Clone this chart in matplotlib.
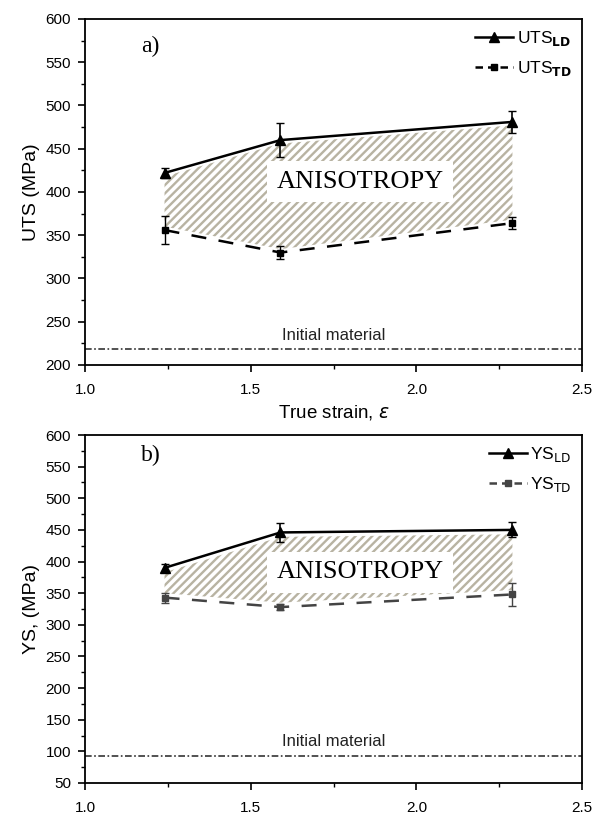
import matplotlib
matplotlib.use("Agg")
import matplotlib.pyplot as plt
from matplotlib.ticker import MultipleLocator
from matplotlib.lines import Line2D

strain = [1.24, 1.59, 2.29]

uts_ld = [422, 460, 481]
uts_ld_err = [6, 20, 13]
uts_td = [356, 330, 364]
uts_td_err = [16, 8, 7]
uts_initial = 218

ys_ld = [390, 446, 450]
ys_ld_err = [6, 15, 12]
ys_td = [343, 328, 348]
ys_td_err = [8, 5, 18]
ys_initial = 93

plt.rcParams['font.family'] = ['Liberation Sans', 'DejaVu Sans']
plt.rcParams['hatch.linewidth'] = 1.7
HATCH = '#b8b3a2'

fig = plt.figure(figsize=(6.02, 8.14), dpi=100)
ax1 = fig.add_axes([0.1412, 0.5516, 0.8256, 0.4251])
ax2 = fig.add_axes([0.1412, 0.0381, 0.8256, 0.4275])

def panel(ax, ld, lderr, td, tderr, init, ylo, yticks, ylabel, tag, labld, labtd,
          tdcolor, gap, txt_y):
    lo = [v + gap for v in td]
    hi = [v - gap for v in ld]
    ax.fill_between(strain, lo, hi, facecolor='none', edgecolor=HATCH,
                    hatch='////', linewidth=0, zorder=1)
    ax.errorbar(strain, ld, yerr=lderr, color='black', lw=1.8, marker='^', ms=7,
                capsize=3, elinewidth=1.2, zorder=3)
    ax.errorbar(strain, td, yerr=tderr, color=tdcolor, lw=1.8, marker='s', ms=5,
                ls=(0, (6, 5)), capsize=3, elinewidth=1.0, zorder=3)
    ax.axhline(init, color='#333333', lw=1.2, ls=(0, (4, 1.5, 1, 1.5)), zorder=2)
    ax.text(1.75, init + (600 - ylo) * 0.02, 'Initial material', ha='center',
            va='bottom', fontsize=12, color='#222222')
    ax.text(1.83, txt_y, 'ANISOTROPY',
            family='Liberation Serif', fontsize=19, ha='center', va='center',
            bbox=dict(facecolor='white', edgecolor='none', pad=7), zorder=2)
    ax.text(1.17, 568, tag, family='Liberation Serif', fontsize=17, ha='left',
            va='center')
    ax.set_xlim(1.0, 2.5)
    ax.set_ylim(ylo, 600)
    ax.set_xticks([1.0, 1.5, 2.0, 2.5])
    ax.set_xticklabels(['1.0', '1.5', '2.0', '2.5'])
    ax.xaxis.set_minor_locator(MultipleLocator(0.25))
    ax.set_yticks(yticks)
    ax.yaxis.set_minor_locator(MultipleLocator(25))
    ax.tick_params(which='major', direction='out', length=5, width=1.2,
                   labelsize=11)
    ax.tick_params(axis='x', which='major', pad=8)
    ax.tick_params(axis='y', which='major', pad=5)
    ax.tick_params(which='minor', direction='out', length=3, width=1)
    for s in ax.spines.values():
        s.set_linewidth(1.3)
    ax.set_ylabel(ylabel, fontsize=14)
    handles = [
        Line2D([], [], color='black', lw=1.8, marker='^', ms=7),
        Line2D([], [], color=tdcolor, lw=1.8, marker='s', ms=5, ls=(0, (3, 2))),
    ]
    ax.legend(handles, [labld, labtd], loc='upper right', frameon=False,
              fontsize=12.5, handlelength=2.2, handletextpad=0.2,
              labelspacing=0.6, borderaxespad=0.2)

panel(ax1, uts_ld, uts_ld_err, uts_td, uts_td_err, uts_initial, 200,
      list(range(200, 601, 50)), 'UTS (MPa)', 'a)',
      r'UTS$_{\mathbf{LD}}$', r'UTS$_{\mathbf{TD}}$', 'black', 4, 412)
panel(ax2, ys_ld, ys_ld_err, ys_td, ys_td_err, ys_initial, 50,
      list(range(50, 601, 50)), 'YS, (MPa)', 'b)',
      r'YS$_{\mathrm{LD}}$', r'YS$_{\mathrm{TD}}$', '#444444', 7, 383)
ax1.set_xlabel('True strain, $\\varepsilon$', fontsize=13.5, labelpad=4)

fig.savefig('out.png', dpi=100)
